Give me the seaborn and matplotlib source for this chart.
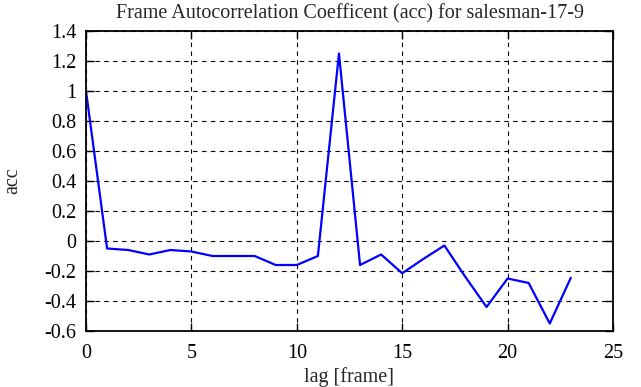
import matplotlib
matplotlib.use("Agg")
import matplotlib.pyplot as plt
import seaborn as sns
import pandas as pd

lags = list(range(24))
acc = [1.0, -0.05, -0.06, -0.09, -0.06, -0.07, -0.10, -0.10, -0.10, -0.16,
       -0.16, -0.10, 1.25, -0.16, -0.09, -0.215, -0.12, -0.03, -0.24, -0.44,
       -0.25, -0.28, -0.55, -0.245]
x_ticks = [0, 5, 10, 15, 20, 25]
y_ticks = [-0.6, -0.4, -0.2, 0, 0.2, 0.4, 0.6, 0.8, 1, 1.2, 1.4]
y_labels = ["-0.6", "-0.4", "-0.2", "0", "0.2", "0.4", "0.6", "0.8", "1", "1.2", "1.4"]

sns.set_theme(style="ticks")
plt.rcParams['font.family'] = ['Liberation Serif', 'DejaVu Serif']
FS = 14.5

df = pd.DataFrame({"lag": lags, "acc": acc})
fig = plt.figure(figsize=(6.41, 3.87), dpi=100)
ax = fig.add_axes([86/641, 1-331/387, (613-86)/641, (331-31)/387])
sns.lineplot(data=df, x="lag", y="acc", ax=ax, color=(0, 0, 1), linewidth=1.6)
ax.set_xlim(0, 25)
ax.set_ylim(-0.6, 1.4)
ax.set_xticks(x_ticks)
ax.set_yticks(y_ticks)
ax.set_yticklabels(y_labels)
ax.grid(True, color="black", linestyle=(0, (4, 4)), linewidth=0.8)
ax.tick_params(direction="in", top=True, right=True, length=6, width=1,
               colors="black", labelsize=FS)
ax.tick_params(axis="y", pad=7)
ax.tick_params(axis="x", pad=9)
for s in ax.spines.values():
    s.set_linewidth(1.3)
    s.set_color("black")
ax.set_xlabel("lag [frame]", fontsize=FS, labelpad=3)
ax.set_ylabel("acc", fontsize=FS, labelpad=16)
ax.set_title("Frame Autocorrelation Coefficent (acc) for salesman-17-9",
             fontsize=FS, pad=9)
fig.savefig("out.png", dpi=100)
